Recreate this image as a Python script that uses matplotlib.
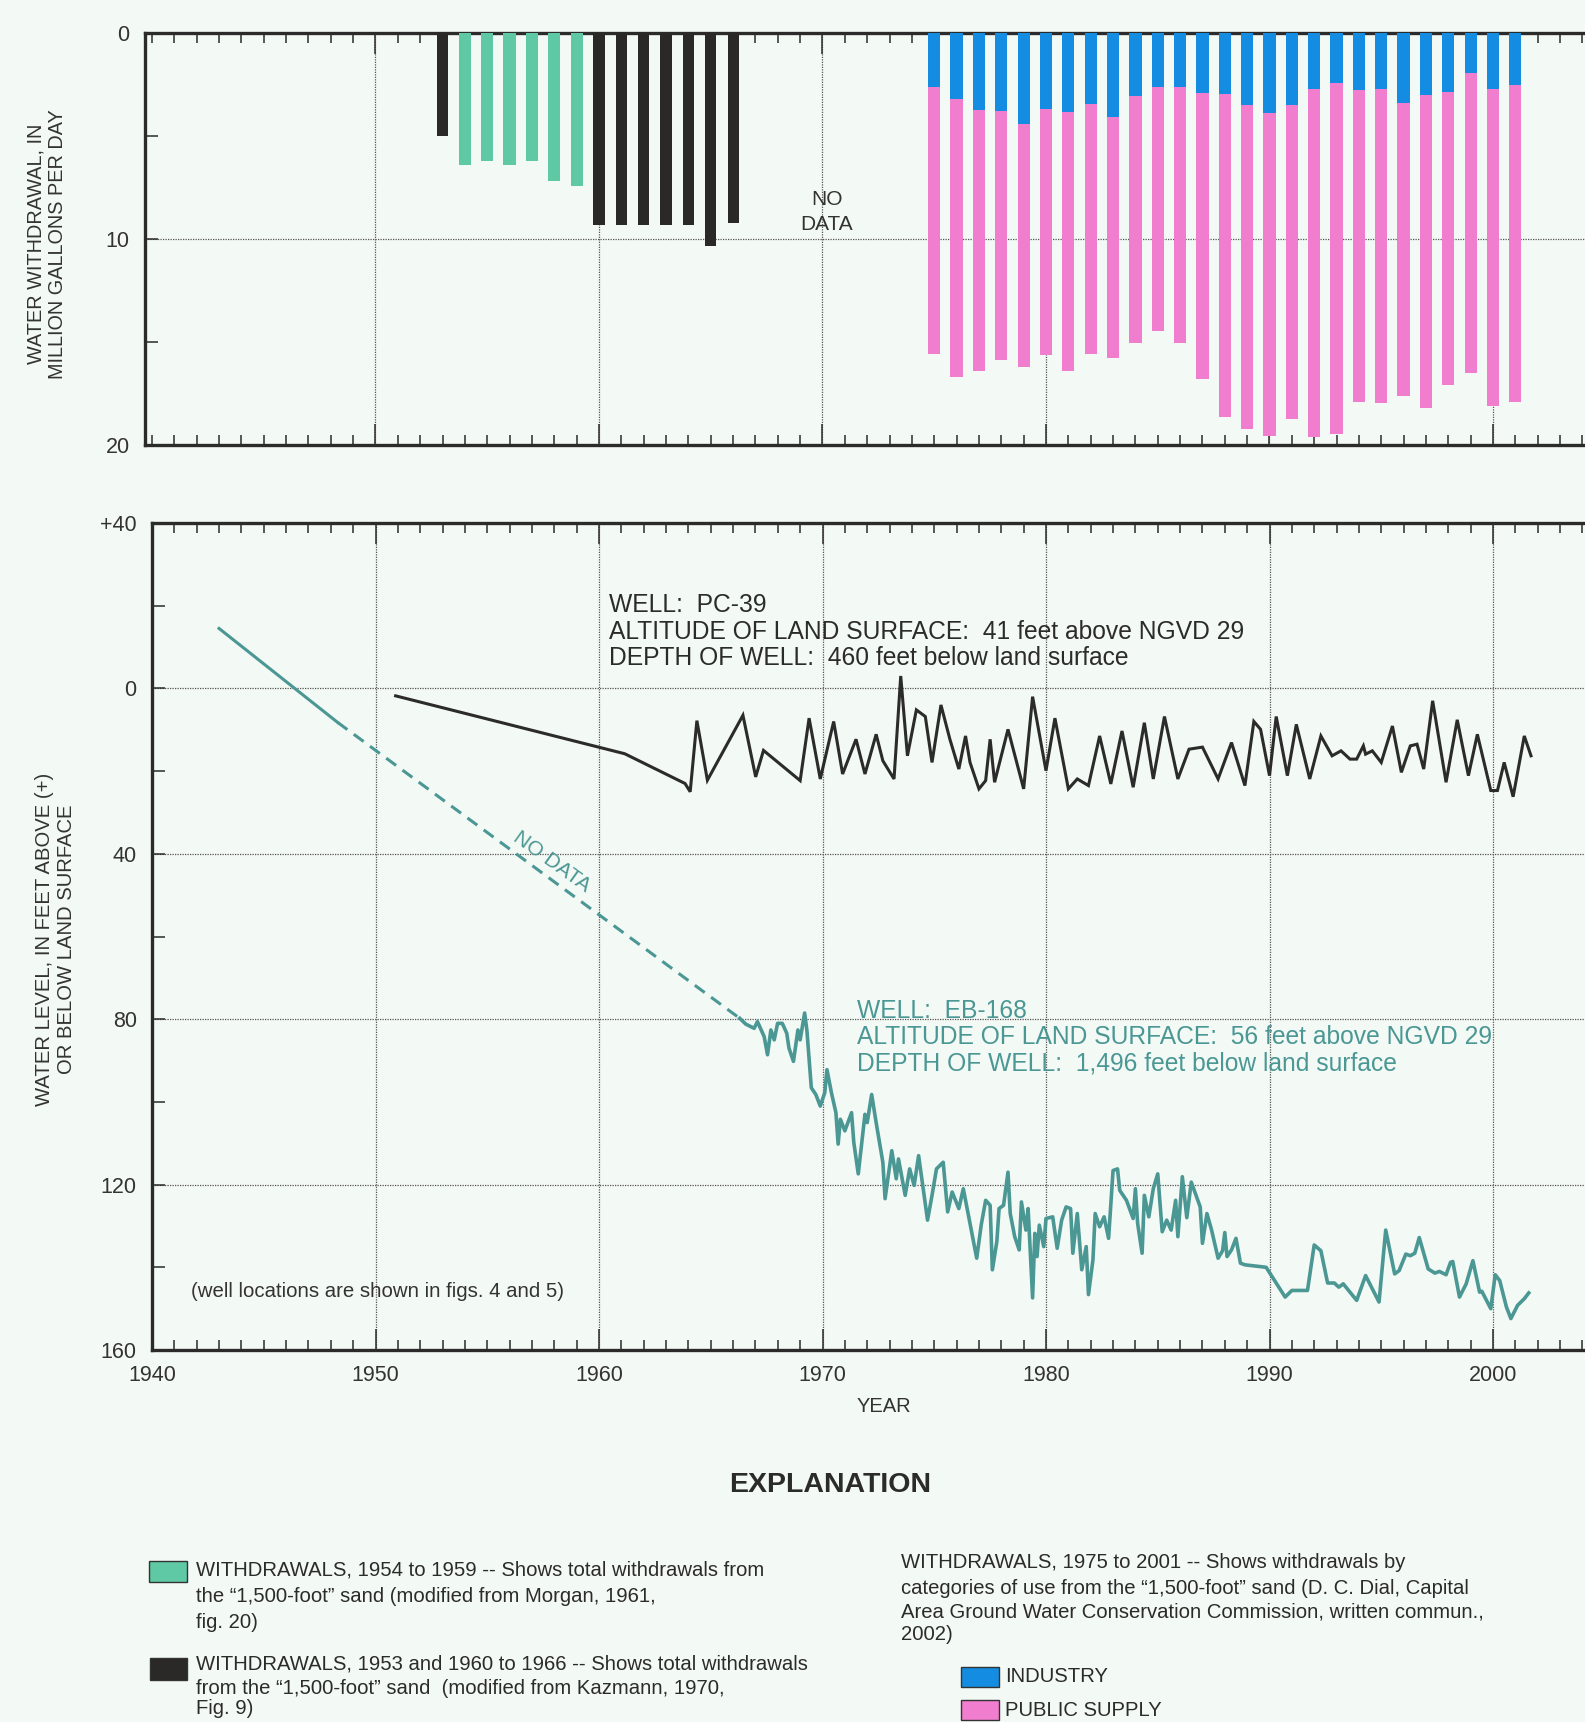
import matplotlib.pyplot as plt
from matplotlib.ticker import MultipleLocator, FixedLocator
from matplotlib.patches import Rectangle

plt.rcParams['font.family'] = ['Liberation Sans', 'DejaVu Sans']

# ---- withdrawals (million gallons per day) ----
black_years = [1953, 1960, 1961, 1962, 1963, 1964, 1965, 1966]
black_mgd = [5.0, 9.3, 9.3, 9.3, 9.3, 9.3, 10.35, 9.2]
green_years = [1954, 1955, 1956, 1957, 1958, 1959]
green_mgd = [6.4, 6.2, 6.4, 6.2, 7.2, 7.45]
use_years = list(range(1975, 2002))
industry_mgd = [2.6, 3.2, 3.75, 3.8, 4.4, 3.7, 3.85, 3.45, 4.1, 3.05,
                2.6, 2.6, 2.9, 2.95, 3.5, 3.9, 3.5, 2.7, 2.45, 2.75,
                2.7, 3.4, 3.0, 2.85, 1.95, 2.7, 2.5]
public_mgd = [13.0, 13.5, 12.65, 12.05, 11.8, 11.95, 12.55, 12.15, 11.7, 12.0,
              11.85, 12.45, 13.9, 15.7, 15.7, 15.65, 15.25, 16.9, 17.0, 15.15,
              15.25, 14.2, 15.2, 14.25, 14.55, 15.4, 15.4]

# ---- water levels (feet below land surface, negative = above) ----
pc_years = [1950.9, 1961.15, 1963.85, 1964.08, 1964.38, 1964.85, 1966.44, 1967.01, 1967.36,
            1969.0, 1969.4, 1969.9, 1970.5, 1970.9, 1971.5, 1971.9, 1972.4, 1972.7, 1973.2,
            1973.5, 1973.8, 1974.2, 1974.6, 1974.9, 1975.3, 1975.7, 1976.1, 1976.4, 1976.6,
            1977.0, 1977.3, 1977.5, 1977.7, 1978.3, 1979.0, 1979.4, 1980.0, 1980.4, 1981.0,
            1981.4, 1981.9, 1982.4, 1982.9, 1983.4, 1983.9, 1984.4, 1984.8, 1985.3, 1985.9,
            1986.4, 1987.0, 1987.7, 1988.3, 1988.9, 1989.3, 1989.6, 1990.0, 1990.3, 1990.8,
            1991.2, 1991.8, 1992.3, 1992.8, 1993.2, 1993.6, 1993.9, 1994.2, 1994.3, 1994.6,
            1995.0, 1995.5, 1995.9, 1996.3, 1996.6, 1996.9, 1997.3, 1997.9, 1998.4, 1998.9,
            1999.3, 1999.9, 2000.2, 2000.5, 2000.9, 2001.4, 2001.7]
pc_ft = [1.8, 15.8, 23.0, 25.0, 7.8, 22.2, 6.5, 21.4, 15.0,
         22.3, 7.2, 21.9, 8.0, 20.7, 12.3, 20.7, 11.1, 17.5, 21.9,
         -3.0, 16.3, 5.2, 6.8, 17.9, 4.0, 12.3, 19.5, 11.5, 17.9,
         24.3, 22.3, 12.3, 22.7, 9.9, 24.3, 2.0, 19.9, 7.2, 24.3,
         21.9, 23.5, 11.5, 23.1, 10.3, 23.9, 8.3, 21.9, 6.8, 21.9,
         14.7, 14.2, 21.9, 13.1, 23.5, 8.0, 9.9, 21.1, 6.8, 21.1,
         8.7, 21.9, 11.5, 16.3, 15.1, 17.1, 17.1, 13.9, 15.9, 15.1,
         17.9, 9.1, 20.3, 13.9, 13.5, 19.5, 3.0, 22.7, 7.6, 21.1,
         11.1, 24.7, 24.7, 17.9, 26.2, 11.5, 16.3]

eb_early_years = [1943.0, 1948.3]
eb_early_ft = [-14.5, 8.2]
eb_gap_years = [1948.3, 1966.3]
eb_gap_ft = [8.2, 79.8]
eb_years = [1966.3, 1966.57, 1966.94, 1967.09, 1967.39, 1967.54, 1967.69, 1967.84, 1967.99, 1968.2,
            1968.4, 1968.5, 1968.7, 1968.9, 1969.0, 1969.2, 1969.3, 1969.5, 1969.7, 1969.9,
            1970.1, 1970.2, 1970.4, 1970.6, 1970.7, 1970.8, 1971.0, 1971.3, 1971.4, 1971.6,
            1971.9, 1972.0, 1972.2, 1972.4, 1972.7, 1972.8, 1973.1, 1973.3, 1973.4, 1973.7,
            1973.9, 1974.1, 1974.3, 1974.6, 1974.7, 1974.9, 1975.1, 1975.4, 1975.6, 1975.8,
            1976.1, 1976.3, 1976.5, 1976.9, 1977.1, 1977.3, 1977.5, 1977.6, 1977.8, 1977.9,
            1978.1, 1978.3, 1978.4, 1978.6, 1978.8, 1978.9, 1979.1, 1979.2, 1979.4, 1979.5,
            1979.6, 1979.7, 1979.9, 1980.0, 1980.3, 1980.5, 1980.7, 1980.9, 1981.1, 1981.2,
            1981.4, 1981.6, 1981.8, 1981.9, 1982.1, 1982.2, 1982.4, 1982.6, 1982.8, 1983.0,
            1983.2, 1983.3, 1983.6, 1983.9, 1984.0, 1984.1, 1984.3, 1984.4, 1984.6, 1984.8,
            1985.0, 1985.2, 1985.4, 1985.6, 1985.8, 1985.9, 1986.1, 1986.3, 1986.5, 1986.7,
            1986.9, 1987.0, 1987.2, 1987.4, 1987.7, 1987.9, 1988.0, 1988.1, 1988.3, 1988.5,
            1988.7, 1988.9, 1989.85, 1990.7, 1991.0, 1991.7, 1992.0, 1992.3, 1992.6, 1992.9,
            1993.1, 1993.3, 1993.9, 1994.3, 1994.9, 1995.2, 1995.6, 1995.8, 1996.1, 1996.3,
            1996.5, 1996.7, 1997.1, 1997.4, 1997.6, 1997.9, 1998.1, 1998.2, 1998.5, 1998.8,
            1999.1, 1999.4, 1999.5, 1999.9, 2000.1, 2000.3, 2000.6, 2000.8, 2001.1, 2001.4,
            2001.6]
eb_ft = [79.8, 81.2, 82.2, 80.6, 84.2, 88.6, 82.6, 85.0, 81.0, 81.0,
         83.4, 87.0, 90.2, 82.6, 85.0, 78.5, 82.6, 96.6, 98.2, 101.0,
         97.8, 92.2, 97.8, 102.6, 110.2, 104.2, 107.0, 102.6, 109.8, 117.4,
         103.0, 105.0, 98.2, 105.0, 114.6, 123.4, 111.8, 118.6, 113.8, 122.6,
         116.2, 120.2, 113.0, 124.6, 128.6, 122.6, 116.2, 114.6, 126.6, 121.8,
         125.8, 121.0, 126.6, 137.8, 129.8, 123.8, 125.0, 140.6, 133.8, 125.8,
         125.0, 117.0, 127.0, 132.6, 135.8, 124.2, 131.0, 125.8, 147.4, 131.8,
         137.4, 129.8, 135.0, 128.2, 127.8, 135.4, 128.6, 125.4, 125.8, 136.6,
         127.0, 140.6, 135.0, 146.6, 138.2, 127.0, 130.2, 127.8, 133.0, 116.6,
         116.2, 121.4, 123.8, 128.2, 121.0, 129.4, 136.6, 122.6, 127.8, 121.0,
         117.4, 131.4, 128.6, 131.0, 123.8, 132.6, 118.1, 128.0, 119.4, 122.4,
         125.4, 134.2, 127.0, 130.8, 137.8, 136.0, 131.6, 137.4, 135.8, 133.0,
         139.0, 139.4, 140.0, 147.2, 145.6, 145.6, 134.6, 136.0, 143.8, 143.8,
         144.8, 144.0, 148.0, 142.0, 148.4, 131.0, 141.6, 140.8, 136.8, 137.2,
         136.6, 132.8, 140.4, 141.4, 141.0, 141.8, 138.8, 138.6, 147.2, 144.0,
         138.4, 146.0, 145.8, 150.0, 141.8, 143.2, 149.6, 152.4, 149.2, 147.6,
         146.2]

BG = '#f3f9f5'
INK = '#2b2b2b'
TEAL = '#4b9794'
GREEN = '#5fc8a5'
BLUE = '#148ce1'
PINK = '#f07dcd'
W, H = 1585, 1722
PX_YR = 22.35

fig = plt.figure(figsize=(W / 100, H / 100), dpi=100, facecolor=BG)


def px_axes(left, top, bottom):
    return fig.add_axes([left / W, 1 - bottom / H, (W - left) / W, (bottom - top) / H])


def style(ax):
    ax.set_facecolor('none')
    for side in ['top', 'bottom', 'left']:
        ax.spines[side].set_linewidth(2.4)
        ax.spines[side].set_color(INK)
    ax.spines['right'].set_visible(False)
    ax.xaxis.set_minor_locator(MultipleLocator(1))
    ax.tick_params(which='both', direction='in', top=True, bottom=True, right=False,
                   colors=INK, width=1.1, labelsize=15.5, labelcolor='#333333')
    ax.tick_params(axis='x', which='major', length=15, labelbottom=False, labeltop=False)
    ax.tick_params(axis='x', which='minor', length=7)
    ax.tick_params(axis='y', which='both', length=9, pad=11)
    ax.grid(True, which='major', linestyle=(0, (1, 1)), color='#555555', linewidth=0.9)
    ax.set_axisbelow(True)


# ---------------- top panel: withdrawals ----------------
ax1 = px_axes(145, 33, 445)
style(ax1)
ax1.set_xlim(1940 - 7 / PX_YR, 1940 + (W - 152) / PX_YR)
ax1.set_ylim(20, 0)
ax1.xaxis.set_major_locator(FixedLocator([1950, 1960, 1970, 1980, 1990, 2000]))
ax1.set_yticks([0, 10, 20])
ax1.yaxis.set_minor_locator(FixedLocator([5, 15]))

ax1.bar(black_years, black_mgd, width=0.5, color='#2a2927', zorder=3)
ax1.bar(green_years, green_mgd, width=0.55, color=GREEN, zorder=3)
ax1.bar(use_years, industry_mgd, width=0.55, color=BLUE, zorder=3)
ax1.bar(use_years, public_mgd, width=0.55, bottom=industry_mgd, color=PINK, zorder=3)

ax1.text(1970.2, 8.1, 'NO', ha='center', va='center', fontsize=15, color='#333333')
ax1.text(1970.2, 9.3, 'DATA', ha='center', va='center', fontsize=15, color='#333333')

fig.text(47 / W, 1 - 244 / H, 'WATER WITHDRAWAL, IN\nMILLION GALLONS PER DAY',
         rotation=90, ha='center', va='center', multialignment='center',
         fontsize=14.3, linespacing=1.2, color='#333333')

# ---------------- bottom panel: water levels ----------------
ax2 = px_axes(152, 523, 1350)
style(ax2)
ax2.set_xlim(1940, 1940 + (W - 152) / PX_YR)
ax2.set_ylim(160, -40)
ax2.xaxis.set_major_locator(MultipleLocator(10))
ax2.tick_params(axis='x', which='major', labelbottom=True, pad=11)
ax2.set_yticks([-40, 0, 40, 80, 120, 160], ['+40', '0', '40', '80', '120', '160'])
ax2.yaxis.set_minor_locator(FixedLocator([-20, 20, 60, 100, 140]))

ax2.plot(pc_years, pc_ft, color=INK, lw=2.2, solid_joinstyle='miter', zorder=4)
ax2.plot(eb_early_years, eb_early_ft, color=TEAL, lw=2.2, zorder=4)
ax2.plot(eb_gap_years, eb_gap_ft, color=TEAL, lw=2.2, dashes=(4, 2.6), zorder=4)
ax2.plot(eb_years, eb_ft, color=TEAL, lw=2.6, zorder=4)

ax2.text(1957.9, 41.9, 'NO DATA', rotation=-35.7, ha='center', va='center',
         rotation_mode='anchor', fontsize=15, color=TEAL, zorder=5)

pc_text = ['WELL:  PC-39', 'ALTITUDE OF LAND SURFACE:  41 feet above NGVD 29',
           'DEPTH OF WELL:  460 feet below land surface']
for line, ft in zip(pc_text, [-20.1, -13.7, -7.3]):
    ax2.text(1960.45, ft, line, ha='left', va='center', fontsize=17.7, color='#2b2b2b', zorder=5)

eb_text = ['WELL:  EB-168', 'ALTITUDE OF LAND SURFACE:  56 feet above NGVD 29',
           'DEPTH OF WELL:  1,496 feet below land surface']
for line, ft in zip(eb_text, [78.0, 84.4, 90.6]):
    ax2.text(1971.56, ft, line, ha='left', va='center', fontsize=17.7, color=TEAL, zorder=5)

ax2.text(1941.73, 145.9, '(well locations are shown in figs. 4 and 5)', ha='left',
         va='center', fontsize=14.7, color='#333333')

fig.text(56 / W, 1 - 939 / H, 'WATER LEVEL, IN FEET ABOVE (+)\nOR BELOW LAND SURFACE',
         rotation=90, ha='center', va='center', multialignment='center',
         fontsize=14.6, linespacing=1.2, color='#333333')
fig.text(884 / W, 1 - 1406 / H, 'YEAR', ha='center', va='center', fontsize=14.5, color='#333333')

# ---------------- explanation ----------------
fig.text(830 / W, 1 - 1485 / H, 'EXPLANATION', ha='center', va='center',
         fontsize=20.5, fontweight='bold', color='#2b2b2b')


def swatch(x0, y0, x1, y1, color):
    fig.patches.append(Rectangle((x0 / W, 1 - y1 / H), (x1 - x0) / W, (y1 - y0) / H,
                                 transform=fig.transFigure, facecolor=color,
                                 edgecolor='#333333', linewidth=1.0))


def lines(x, ys, texts):
    for y, t in zip(ys, texts):
        fig.text(x / W, 1 - y / H, t, ha='left', va='center', fontsize=14.6, color='#2b2b2b')


swatch(149, 1561, 187, 1582, GREEN)
lines(196, [1570, 1597, 1622],
      ['WITHDRAWALS, 1954 to 1959 -- Shows total withdrawals from',
       'the \u201c1,500-foot\u201d sand (modified from Morgan, 1961,',
       'fig. 20)'])
swatch(150, 1658, 187, 1680, '#2a2927')
lines(196, [1664, 1688, 1709],
      ['WITHDRAWALS, 1953 and 1960 to 1966 -- Shows total withdrawals',
       'from the \u201c1,500-foot\u201d sand  (modified from Kazmann, 1970,',
       'Fig. 9)'])
lines(901, [1563, 1588, 1612, 1635],
      ['WITHDRAWALS, 1975 to 2001 -- Shows withdrawals by',
       'categories of use from the \u201c1,500-foot\u201d sand (D. C. Dial, Capital',
       'Area Ground Water Conservation Commission, written commun.,',
       '2002)'])
swatch(961, 1667, 999, 1687, BLUE)
lines(1005, [1677], ['INDUSTRY'])
swatch(961, 1700, 999, 1720, PINK)
lines(1005, [1710], ['PUBLIC SUPPLY'])

fig.savefig('out.png', dpi=100, facecolor=BG)
